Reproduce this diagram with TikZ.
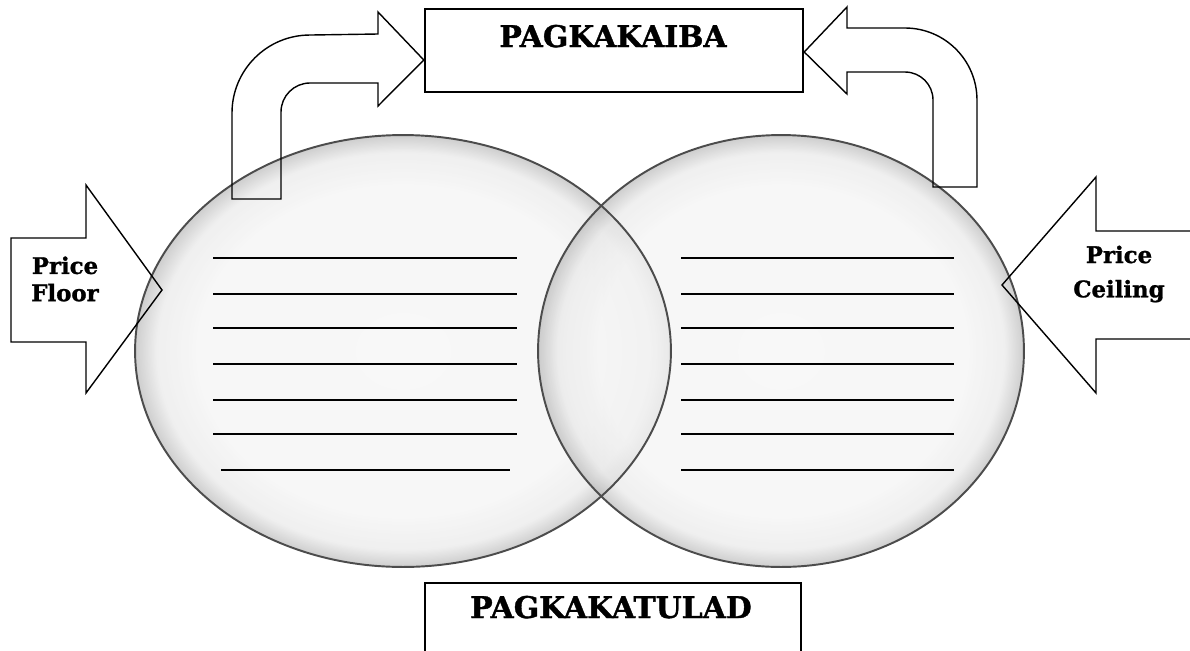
\documentclass[tikz,border=0pt]{standalone}
\usepackage{fontspec}
\newfontfamily\labelfont{DejaVu Serif}[BoldFeatures={FakeBold=1.2}]
\usetikzlibrary{shapes.geometric,positioning}

\pgfdeclareradialshading{bubble}{\pgfpointorigin}{color(0bp)=(gray!8); color(19bp)=(gray!9); color(23bp)=(gray!18); color(25bp)=(gray!55); color(50bp)=(gray!55)}

\tikzset{
  setfill/.style={shading=bubble, fill opacity=0.7},
  setrim/.style={draw=black!70, line width=1.1pt},
  frame/.style={draw, line width=1.4pt, inner sep=0pt},
  bigarrow/.style={draw, line width=0.8pt, line join=miter},
  blank/.style={line width=1.2pt},
  titletext/.style={font=\labelfont\bfseries\fontsize{17}{20}\selectfont, inner sep=0pt},
  sidetext/.style={font=\labelfont\bfseries\fontsize{13}{15.5}\selectfont, align=center, inner sep=0pt}
}

\begin{document}
\begin{tikzpicture}[x=0.02cm, y=-0.02cm]
 \useasboundingbox (0,0) rectangle (1190,650);
 \clip (0,0) rectangle (1190,650);

% sets
 \coordinate (floorc) at (403,351);
 \coordinate (ceilc) at (781,351);
 \path[setfill] (floorc) ellipse [x radius=5.36cm, y radius=4.32cm];
 \path[setfill] (ceilc) ellipse [x radius=4.86cm, y radius=4.32cm];
 \draw[setrim] (floorc) ellipse [x radius=5.36cm, y radius=4.32cm];
 \draw[setrim] (ceilc) ellipse [x radius=4.86cm, y radius=4.32cm];

% blanks
 \foreach \y in {258,294,328,364,400,434}
   \draw[blank] (213,\y) -- (517,\y);
 \draw[blank] (221,470) -- (510,470);
 \foreach \y in {258,294,328,364,400,434,470}
   \draw[blank] (681,\y) -- (954,\y);

% boxes
 \node[frame, minimum width=7.56cm, minimum height=1.66cm] (diffbox) at (614,50.5) {};
 \node[titletext, anchor=base] (difftxt) at (613,47) {PAGKAKAIBA};
 \node[frame, minimum width=7.52cm, minimum height=2cm, anchor=north] (simbox) at (613,582) {};
 \node[titletext, anchor=base] (simtxt) at (611,618) {PAGKAKATULAD};

% arrows
 \draw[bigarrow] (232,199) -- (232,113) arc[start angle=180, end angle=90, radius=1.56cm]
   -- (378,34) -- (378,12) -- (diffbox.west |- 0,60) -- (378,106) -- (378,83) -- (310,83)
   arc[start angle=90, end angle=180, radius=0.58cm] -- (281,199) -- cycle;
 \draw[bigarrow] (diffbox.east |- 0,52) -- (847,7) -- (847,28) -- (905,28)
   arc[start angle=90, end angle=0, radius=1.44cm] -- (977,187) -- (933,187) -- (933,100)
   arc[start angle=0, end angle=90, radius=0.56cm] -- (847,72) -- (847,94) -- cycle;
 \draw[bigarrow] (11,238) -- (86,238) -- (86,185) -- (162,290) -- (86,393) -- (86,342) -- (11,342) -- cycle;
 \draw[bigarrow] (1210,231) -- (1096,231) -- (1096,177) -- (1002,285) -- (1096,393) -- (1096,339) -- (1210,339);

% labels
 \node[sidetext] (floortxt) at (65,279) {Price\\Floor};
 \node[sidetext] (ceiltxt) at (1119,274) {Price\\[4pt]Ceiling};
\end{tikzpicture}
\end{document}
